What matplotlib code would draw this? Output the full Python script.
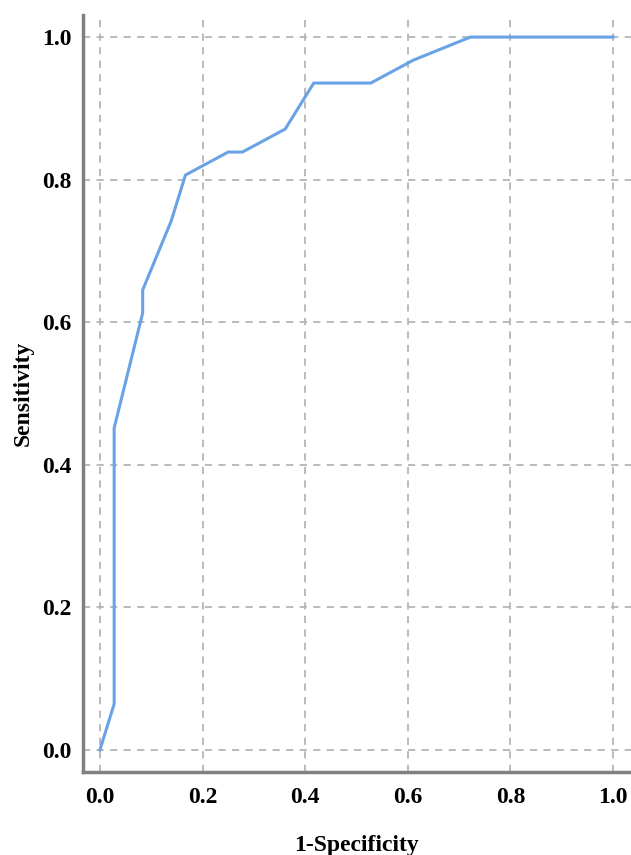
import numpy as np
import matplotlib.pyplot as plt

# ROC curve points (1-specificity, sensitivity)
fpr = [0.0, 1/36, 1/36, 3/36, 3/36, 5/36, 6/36, 9/36, 10/36, 13/36, 15/36,
       19/36, 22/36, 26/36, 1.0]
tpr = [0.0, 2/31, 14/31, 19/31, 20/31, 23/31, 25/31, 26/31, 26/31, 27/31, 29/31,
       29/31, 30/31, 1.0, 1.0]
ticks = [0.0, 0.2, 0.4, 0.6, 0.8, 1.0]

plt.rcParams['font.family'] = ['Liberation Serif', 'DejaVu Serif']

fig = plt.figure(figsize=(6.31, 8.55), dpi=100)
ax = fig.add_axes([0.1315, 0.097, 0.8685, 0.8855])

ax.plot(fpr, tpr, color='#6aa2e6', linewidth=2.2, zorder=3)

ax.set_xlim(-0.033, 1.035)
ax.set_ylim(-0.031, 1.031)
ax.set_xticks(ticks)
ax.set_yticks(ticks)
ax.set_xticklabels([f"{t:.1f}" for t in ticks], fontsize=17, fontweight='bold')
ax.set_yticklabels([f"{t:.1f}" for t in ticks], fontsize=17, fontweight='bold')
ax.tick_params(axis='x', length=0, pad=11)
ax.tick_params(axis='y', length=0, pad=8)

ax.grid(True, color='#b5b5b5', linestyle=(0, (4, 3.5)), linewidth=1.3)
ax.set_axisbelow(True)

for s in ['top', 'right']:
    ax.spines[s].set_visible(False)
for s in ['left', 'bottom']:
    ax.spines[s].set_color('#808080')
    ax.spines[s].set_linewidth(2.5)

ax.set_xlabel('1-Specificity', fontsize=17, fontweight='bold', labelpad=19)
ax.set_ylabel('Sensitivity', fontsize=17, fontweight='bold', labelpad=6.5)

fig.savefig('out.png', dpi=100)
